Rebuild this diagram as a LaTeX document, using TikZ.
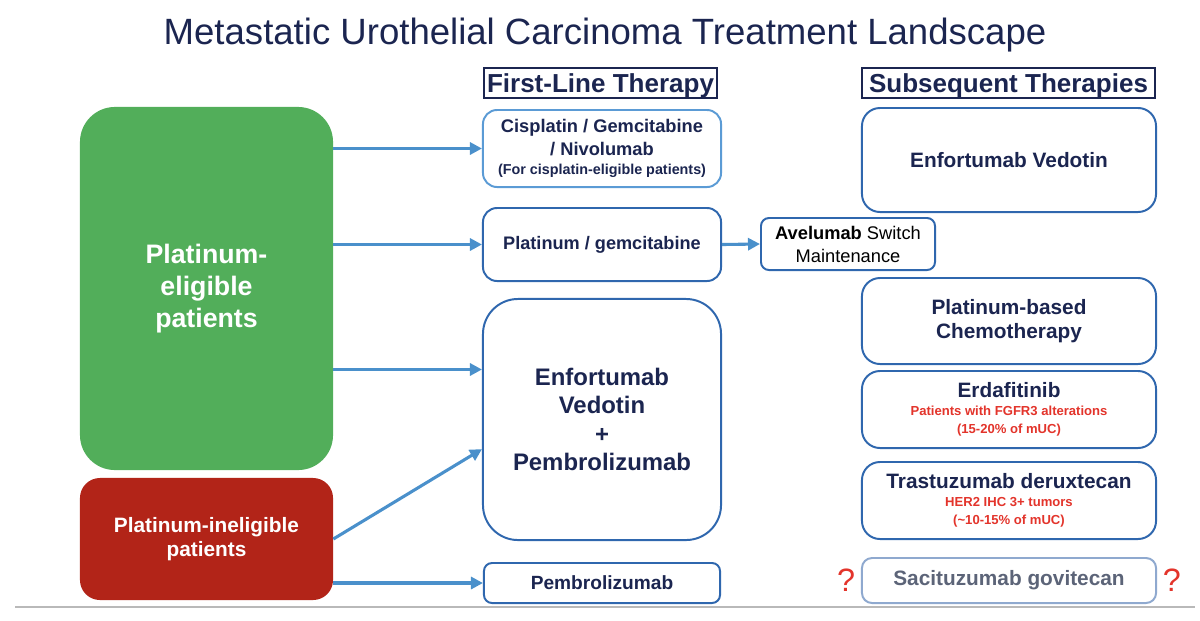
\documentclass[tikz,border=0pt]{standalone}
\usepackage{fontspec}
\setmainfont{Liberation Sans}
\usetikzlibrary{arrows.meta, positioning, calc}
\definecolor{mnavy}{HTML}{1B2550}
\definecolor{mblue}{HTML}{2F67AE}
\definecolor{mlight}{HTML}{5B9BD5}
\definecolor{marrow}{HTML}{4A90CB}
\definecolor{mgreen}{HTML}{52AE5A}
\definecolor{mred}{HTML}{B22418}
\definecolor{mnote}{HTML}{E3342B}
\definecolor{mgrey}{HTML}{5C6478}
\definecolor{mgreyline}{HTML}{8FA9CF}
\tikzset{
  pbox/.style={rectangle, rounded corners=0.35cm, draw=mblue, line width=1.4pt, fill=white,
               text=mnavy, inner sep=0pt, align=center, minimum width=5.95cm},
  rbox/.style={rectangle, rounded corners=0.45cm, draw=mblue, line width=1.4pt, fill=white,
               text=mnavy, inner sep=0pt, align=center, minimum width=7.35cm},
  group/.style={rectangle, inner sep=0pt, text=white, align=center, minimum width=6.325cm},
  head/.style={rectangle, draw=mnavy, line width=1pt, text=mnavy, inner sep=0pt, text depth=0pt,
               minimum height=0.75cm, font=\fontsize{18.5}{20}\selectfont\bfseries},
  flow/.style={-{Triangle[length=3mm, width=3mm]}, draw=marrow, line width=2.2pt},
  note/.style={text=mnote, font=\fontsize{9.3}{12.8}\selectfont\bfseries}
}

\begin{document}
\begin{tikzpicture}[x=0.025cm, y=-0.025cm]
  \useasboundingbox (0,0) rectangle (1200,620);
  \node[text=mnavy, font=\fontsize{26}{30}\selectfont] (title) at (605,35)
    {Metastatic Urothelial Carcinoma Treatment Landscape};
  \draw[gray!55, line width=1.4pt] (15,607) -- (1195,607);

  % patient groups
  \node[group, fill=mgreen, rounded corners=0.875cm, minimum height=9.075cm,
        font=\fontsize{19}{23}\selectfont\bfseries] (green) at (206.5,288.5)
    {Platinum-\\eligible\\patients};
  \node[group, fill=mred, rounded corners=0.5cm, minimum height=3.05cm,
        font=\fontsize{14.8}{17}\selectfont\bfseries] (red) at (206.5,539)
    {Platinum-ineligible\\patients};

  % first-line column
  \node[head, minimum width=5.825cm] (h1) at (600.5,83) {First-Line Therapy};
  \node[pbox, draw=mlight, minimum height=1.925cm, font=\fontsize{13}{16.4}\selectfont\bfseries]
    (cis) at (602,148.5)
    {Cisplatin / Gemcitabine\\/ Nivolumab\\[-3pt]{\fontsize{10.2}{11}\selectfont (For cisplatin-eligible patients)}};
  \node[pbox, minimum height=1.825cm, font=\fontsize{12.9}{15}\selectfont\bfseries]
    (platgem) at (602,244.5) {Platinum / gemcitabine};
  \node[pbox, rounded corners=0.2cm, minimum width=4.35cm, minimum height=1.3cm,
        text=black, font=\fontsize{13}{16.4}\selectfont] (avel) at (848,244)
    {\textbf{Avelumab} Switch\\Maintenance};
  \node[pbox, rounded corners=0.875cm, minimum height=6.025cm,
        font=\fontsize{17}{20.3}\selectfont\bfseries] (evp) at (602,419.5)
    {Enfortumab\\Vedotin\\+\\Pembrolizumab};
  \node[pbox, rounded corners=0.2cm, minimum width=5.9cm, minimum height=1cm,
        font=\fontsize{13.6}{15}\selectfont\bfseries] (pembro) at (602,583) {Pembrolizumab};
  \coordinate (evpup) at ([yshift=1.25cm]evp.west);
  \coordinate (evplow) at ([yshift=-0.74cm]evp.west);

  % subsequent column
  \node[head, minimum width=7.325cm] (h2) at (1008.5,83) {Subsequent Therapies};
  \node[rbox, minimum height=2.6cm, font=\fontsize{14.8}{17}\selectfont\bfseries]
    (ev) at (1009,160) {Enfortumab Vedotin};
  \node[rbox, minimum height=2.15cm, font=\fontsize{14.8}{17}\selectfont\bfseries]
    (chemo) at (1009,321) {Platinum-based\\Chemotherapy};
  \node[rbox, minimum height=1.925cm, font=\fontsize{14.8}{13}\selectfont\bfseries]
    (erda) at (1009,409.5)
    {Erdafitinib\\[0pt]{\color{mnote}\fontsize{9.3}{12.8}\selectfont Patients with FGFR3 alterations}\\
     {\color{mnote}\fontsize{9.3}{12.8}\selectfont (15-20\% of mUC)}};
  \node[rbox, minimum height=1.925cm, font=\fontsize{14.8}{13}\selectfont\bfseries]
    (tdxd) at (1009,500.5)
    {Trastuzumab deruxtecan\\[0pt]{\color{mnote}\fontsize{9.3}{12.8}\selectfont HER2 IHC 3+ tumors}\\
     {\color{mnote}\fontsize{9.3}{12.8}\selectfont (\textasciitilde10-15\% of mUC)}};
  \node[rbox, draw=mgreyline, rounded corners=0.25cm, minimum height=1.125cm, text=mgrey,
        font=\fontsize{14.8}{17}\selectfont\bfseries] (saci) at (1009,580.5) {Sacituzumab govitecan};
  \node[text=mnote, font=\fontsize{23}{24}\selectfont, left=0.02cm of saci] (q1) {?};
  \node[text=mnote, font=\fontsize{23}{24}\selectfont, right=0.02cm of saci] (q2) {?};

  \draw[flow] (green.east |- cis.west) -- (cis.west);
  \draw[flow] (green.east |- platgem.west) -- (platgem.west);
  \draw[flow] (green.east |- evpup) -- (evpup);
  \draw[flow] (red.east) -- (evplow);
  \draw[flow] (red.east |- pembro.west) -- (pembro.west);
  \draw[flow] (platgem.east) -- (avel.west);
\end{tikzpicture}
\end{document}
